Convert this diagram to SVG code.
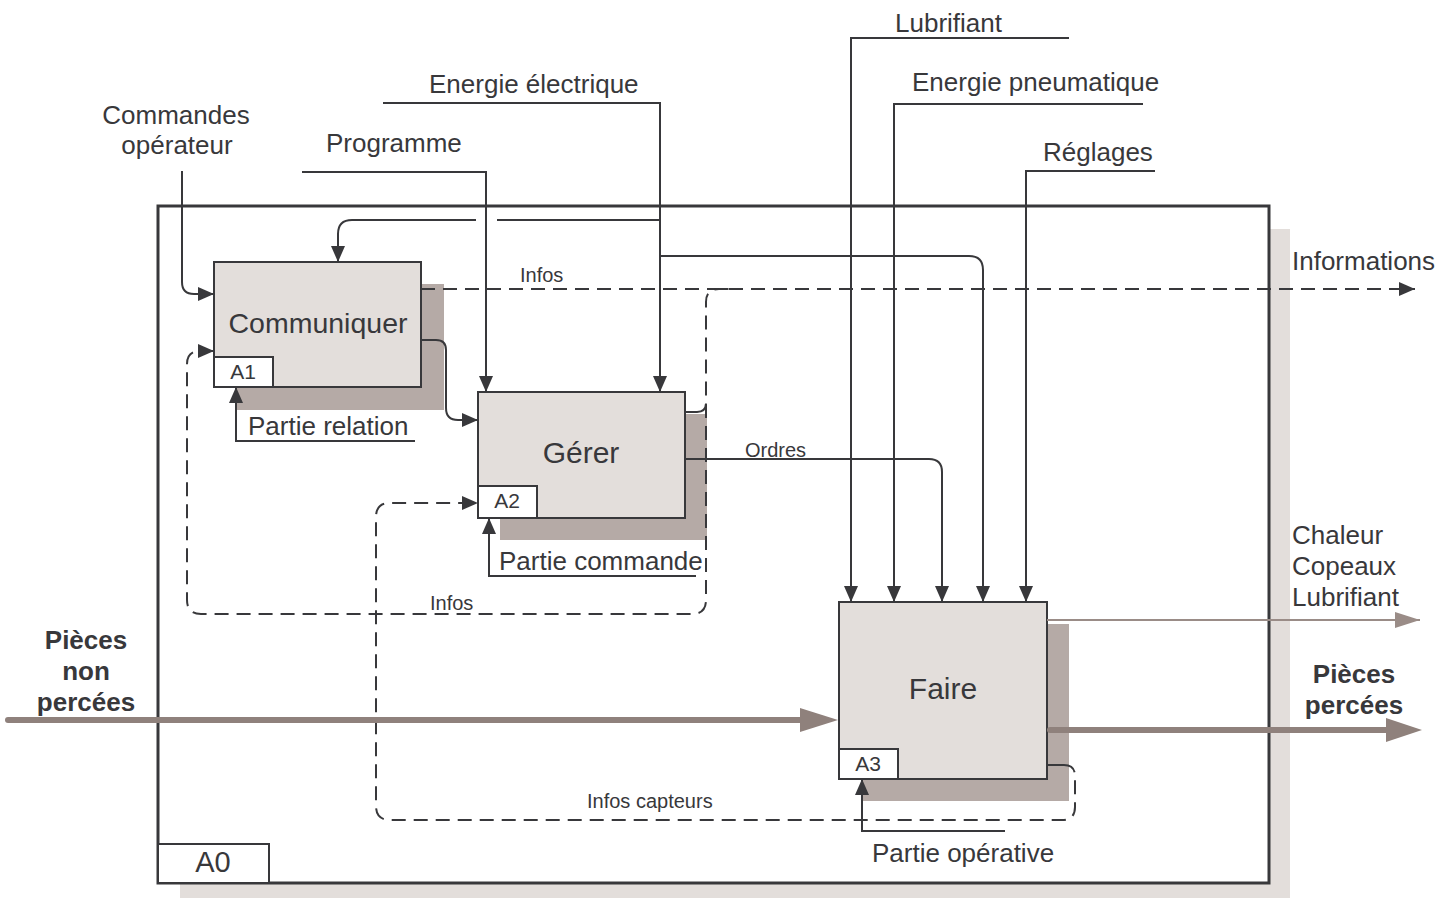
<svg xmlns="http://www.w3.org/2000/svg" width="1453" height="898" viewBox="0 0 1453 898">
  <style>
    text { font-family: "Liberation Sans", Arial, Helvetica, sans-serif; fill: #38383b; }
    .lbl { font-size: 26px; }
    .small { font-size: 20px; }
    .big { font-size: 30px; }
    .bold { font-size: 26px; font-weight: bold; }
    .box { fill: #e3dedb; stroke: #38383b; stroke-width: 2; }
    .shadow { fill: #b5aaa6; }
    .tag { fill: #ffffff; stroke: #38383b; stroke-width: 2; }
    .ln { fill: none; stroke: #38383b; stroke-width: 2; }
    .dash { fill: none; stroke: #38383b; stroke-width: 2; stroke-dasharray: 14 8; }
    .flow { fill: none; stroke: #8f817c; stroke-width: 6; stroke-linecap: round; }
    .thin { fill: none; stroke: #9a8c87; stroke-width: 2; }
  </style>
  <defs>
    <marker id="arr" markerUnits="userSpaceOnUse" markerWidth="16" markerHeight="14" refX="16" refY="7" orient="auto">
      <path d="M0,0 L16,7 L0,14 z" fill="#38383b"/>
    </marker>
    <marker id="arrMid" markerUnits="userSpaceOnUse" markerWidth="25" markerHeight="16" refX="25" refY="8" orient="auto">
      <path d="M0,0 L25,8 L0,16 z" fill="#9a8c87"/>
    </marker>
  </defs>

  <!-- context frame A0 -->
  <g id="A0">
    <rect x="180" y="229" width="1110" height="700" fill="#e3dedb"/>
    <rect x="158" y="206" width="1111" height="677" fill="#ffffff" stroke="#38383b" stroke-width="3"/>
    <rect x="158" y="844" width="111" height="39" class="tag" stroke-width="3"/>
    <text x="213" y="872" class="big" text-anchor="middle" style="font-size:29px">A0</text>
  </g>

  <!-- activity A1 -->
  <g id="A1">
    <rect x="236" y="284" width="208" height="126" class="shadow"/>
    <rect x="214" y="262" width="207" height="125" class="box"/>
    <rect x="214" y="357" width="59" height="30" class="tag"/>
    <text x="318" y="333" style="font-size:28.5px" text-anchor="middle">Communiquer</text>
    <text x="243" y="379" style="font-size:21px" text-anchor="middle">A1</text>
  </g>

  <!-- activity A2 -->
  <g id="A2">
    <rect x="500" y="414" width="207" height="126" class="shadow"/>
    <rect x="478" y="392" width="207" height="126" class="box"/>
    <rect x="478" y="486" width="59" height="32" class="tag"/>
    <text x="581" y="463" class="big" text-anchor="middle">Gérer</text>
    <text x="507" y="508" style="font-size:21px" text-anchor="middle">A2</text>
  </g>

  <!-- activity A3 -->
  <g id="A3">
    <rect x="862" y="624" width="207" height="177" class="shadow"/>
    <rect x="839" y="602" width="208" height="177" class="box"/>
    <rect x="839" y="749" width="59" height="30" class="tag"/>
    <text x="943" y="699" class="big" text-anchor="middle">Faire</text>
    <text x="868" y="771" style="font-size:21px" text-anchor="middle">A3</text>
  </g>

  <!-- connectors -->
  <g id="connectors">
    <!-- controls entering from the top -->
    <path class="ln" d="M182,171 V282 Q182,294 194,294 H214" marker-end="url(#arr)"/>
    <path class="ln" d="M302,172 H486 V392" marker-end="url(#arr)"/>
    <path class="ln" d="M383,103 H660 V392" marker-end="url(#arr)"/>
    <path class="ln" d="M476,220 H352 Q338,220 338,234 V262" marker-end="url(#arr)"/>
    <path class="ln" d="M497,220 H660"/>
    <path class="ln" d="M660,256 H969 Q983,256 983,270 V602" marker-end="url(#arr)"/>
    <path class="ln" d="M1069,38 H851 V602" marker-end="url(#arr)"/>
    <path class="ln" d="M1143,104 H894 V602" marker-end="url(#arr)"/>
    <path class="ln" d="M1155,171 H1026 V602" marker-end="url(#arr)"/>

    <!-- A1 to A2 -->
    <path class="ln" d="M421,340 H436 Q446,340 446,350 V408 Q446,420 458,420 H478" marker-end="url(#arr)"/>
    <!-- Ordres: A2 to A3 -->
    <path class="ln" d="M685,459 H929 Q942,459 942,472 V602" marker-end="url(#arr)"/>

    <!-- mechanisms -->
    <path class="ln" d="M415,441 H236 V387" marker-end="url(#arr)"/>
    <path class="ln" d="M696,576 H489 V518" marker-end="url(#arr)"/>
    <path class="ln" d="M1005,831 H862 V779" marker-end="url(#arr)"/>

    <!-- information feedback (dashed) -->
    <path class="dash" d="M421,289 H1415" marker-end="url(#arr)"/>
    <path class="ln" d="M685,412 H697"/>
    <path class="dash" d="M697,412 Q706,412 706,403 V302 Q706,289 719,289 H730"/>
    <path class="dash" d="M706,404 V600 Q706,614 692,614 H201 Q187,614 187,600 V364 Q187,351 200,351 H214" marker-end="url(#arr)"/>
    <path class="ln" d="M1047,765 H1064"/>
    <path class="dash" d="M1064,765 Q1075,765 1075,776 V807 Q1075,820 1062,820 H390 Q376,820 376,806 V517 Q376,503 390,503 H478" marker-end="url(#arr)"/>

    <!-- material flows -->
    <path class="flow" d="M8,720 H800"/>
    <path d="M800,708 L838,720 L800,732 z" fill="#8f817c"/>
    <path class="flow" d="M1050,730 H1386"/>
    <path d="M1386,718 L1422,730 L1386,742 z" fill="#8f817c"/>
    <path class="thin" d="M1047,620 H1420" marker-end="url(#arrMid)"/>
  </g>

  <!-- flow labels -->
  <g id="labels">
    <text x="176" y="124" class="lbl" text-anchor="middle">Commandes</text>
    <text x="177" y="154" class="lbl" text-anchor="middle">opérateur</text>
    <text x="326" y="152" class="lbl">Programme</text>
    <text x="429" y="93" class="lbl">Energie électrique</text>
    <text x="895" y="32" class="lbl">Lubrifiant</text>
    <text x="912" y="91" class="lbl">Energie pneumatique</text>
    <text x="1043" y="161" class="lbl">Réglages</text>
    <text x="1292" y="270" class="lbl">Informations</text>
    <text x="1292" y="544" class="lbl">Chaleur</text>
    <text x="1292" y="575" class="lbl">Copeaux</text>
    <text x="1292" y="606" class="lbl">Lubrifiant</text>
    <text x="1354" y="683" class="bold" text-anchor="middle">Pièces</text>
    <text x="1354" y="714" class="bold" text-anchor="middle">percées</text>
    <text x="86" y="649" class="bold" text-anchor="middle">Pièces</text>
    <text x="86" y="680" class="bold" text-anchor="middle">non</text>
    <text x="86" y="711" class="bold" text-anchor="middle">percées</text>
    <text x="520" y="282" class="small">Infos</text>
    <text x="430" y="610" class="small">Infos</text>
    <text x="745" y="457" class="small">Ordres</text>
    <text x="587" y="808" class="small">Infos capteurs</text>
    <text x="248" y="435" class="lbl">Partie relation</text>
    <text x="499" y="570" class="lbl">Partie commande</text>
    <text x="872" y="862" class="lbl">Partie opérative</text>
  </g>
</svg>
